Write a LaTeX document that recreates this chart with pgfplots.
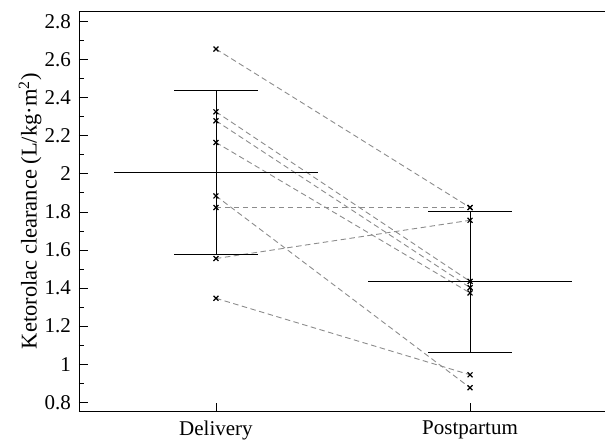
\documentclass[border=0pt]{standalone}
\usepackage{pgfplots}
\pgfplotsset{compat=1.18}
\usepackage{fontspec}
\setmainfont{Liberation Serif}
\definecolor{pairgray}{RGB}{140,140,140}
\begin{document}
\fontsize{21}{25}\selectfont
\begin{tikzpicture}
\begin{axis}[
  name=ax,
  scale only axis,
  width=526pt, height=400.7pt,
  xmin=-0.539, xmax=1.531,
  ymin=0.75, ymax=2.856,
  clip=false,
  axis lines=left,
  axis line style={-, black, line width=0.8pt},
  tick align=inside,
  tick style={black, line width=0.8pt},
  major tick length=9pt, minor tick length=5pt,
  xtick={0,1}, xticklabels={Delivery,Postpartum},
  ytick={0.8,1,1.2,1.4,1.6,1.8,2,2.2,2.4,2.6,2.8},
  yticklabels={0.8,1,1.2,1.4,1.6,1.8,2,2.2,2.4,2.6,2.8},
  minor ytick={0.9,1.1,1.3,1.5,1.7,1.9,2.1,2.3,2.5,2.7},
  xticklabel style={font=\fontsize{21}{25}\selectfont, yshift=-2pt},
  yticklabel style={font=\fontsize{21}{25}\selectfont, xshift=-1pt},
  ylabel={Ketorolac clearance (L/kg·m\textsuperscript{2})},
  every axis y label/.style={at={(axis description cs:-0.093,0.5)}, rotate=90, anchor=center, font=\fontsize{22.5}{26}\selectfont},
]
% paired subjects
\addplot[pairgray, line width=0.9pt, dash pattern=on 5.5pt off 3.5pt] coordinates {(0,2.656) (1,1.823)};
\addplot[pairgray, line width=0.9pt, dash pattern=on 5.5pt off 3.5pt] coordinates {(0,2.326) (1,1.435)};
\addplot[pairgray, line width=0.9pt, dash pattern=on 5.5pt off 3.5pt] coordinates {(0,2.279) (1,1.402)};
\addplot[pairgray, line width=0.9pt, dash pattern=on 5.5pt off 3.5pt] coordinates {(0,2.165) (1,1.374)};
\addplot[pairgray, line width=0.9pt, dash pattern=on 5.5pt off 3.5pt] coordinates {(0,1.884) (1,0.876)};
\addplot[pairgray, line width=0.9pt, dash pattern=on 5.5pt off 3.5pt] coordinates {(0,1.823) (1,1.823)};
\addplot[pairgray, line width=0.9pt, dash pattern=on 5.5pt off 3.5pt] coordinates {(0,1.555) (1,1.756)};
\addplot[pairgray, line width=0.9pt, dash pattern=on 5.5pt off 3.5pt] coordinates {(0,1.346) (1,0.944)};
% mean +- SD, Delivery
\addplot[black, line width=0.9pt] coordinates {(-0.4,2.007) (0.4,2.007)};
\addplot[black, line width=0.9pt] coordinates {(-0.165,2.44) (0.165,2.44)};
\addplot[black, line width=0.9pt] coordinates {(-0.165,1.574) (0.165,1.574)};
\addplot[black, line width=0.9pt] coordinates {(0,1.574) (0,2.44)};
% mean +- SD, Postpartum
\addplot[black, line width=0.9pt] coordinates {(0.6,1.432) (1.4,1.432)};
\addplot[black, line width=0.9pt] coordinates {(0.835,1.804) (1.165,1.804)};
\addplot[black, line width=0.9pt] coordinates {(0.835,1.062) (1.165,1.062)};
\addplot[black, line width=0.9pt] coordinates {(1,1.062) (1,1.804)};
% individual values
\addplot[only marks, mark=x, mark size=3.5pt, mark options={black, line width=1.2pt}] coordinates {
 (0,2.656) (0,2.326) (0,2.279) (0,2.165) (0,1.884) (0,1.823) (0,1.555) (0,1.346)};
\addplot[only marks, mark=x, mark size=3.5pt, mark options={black, line width=1.2pt}] coordinates {
 (1,1.823) (1,1.435) (1,1.402) (1,1.374) (1,0.876) (1,1.823) (1,1.756) (1,0.944)};
% top frame line
\draw[black, line width=0.8pt] (rel axis cs:0,1) -- (rel axis cs:1,1);
\end{axis}
\pgfresetboundingbox
\path ([xshift=-79pt,yshift=-32pt]ax.south west) rectangle ([yshift=11pt]ax.north east);
\end{tikzpicture}
\end{document}
